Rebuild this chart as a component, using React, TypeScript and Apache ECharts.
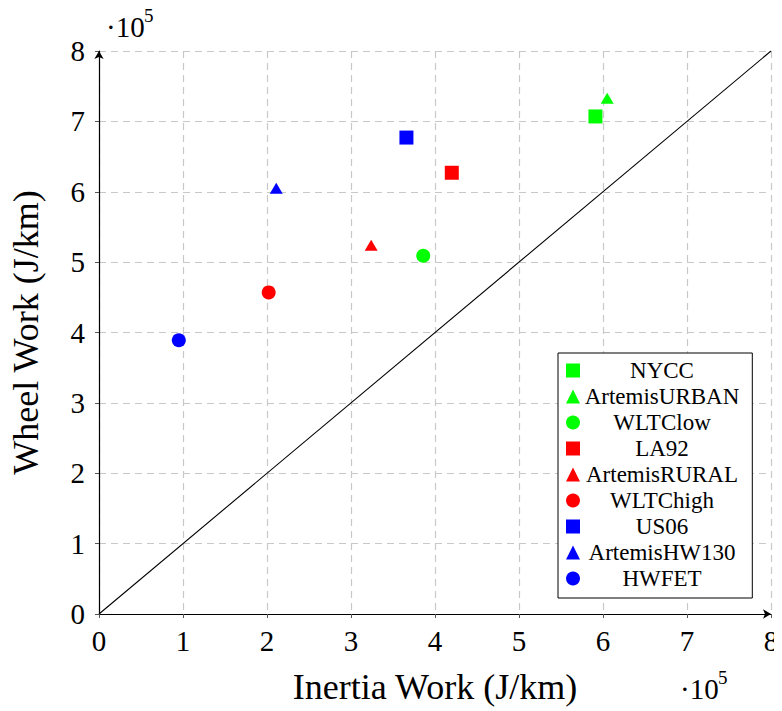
import React, { useEffect, useRef } from "react";
import * as echarts from "echarts";

const seriesNames = ["NYCC", "ArtemisURBAN", "WLTClow", "LA92", "ArtemisRURAL", "WLTChigh", "US06", "ArtemisHW130", "HWFET"];
const seriesColors = ["#00ff00", "#00ff00", "#00ff00", "#ff0000", "#ff0000", "#ff0000", "#0000ff", "#0000ff", "#0000ff"];
const seriesSymbols = ["rect", "triangle", "circle", "rect", "triangle", "circle", "rect", "triangle", "circle"];
// x: inertia work (·10^5 J/km), y: wheel work (·10^5 J/km)
const inertiaWork = [5.91, 6.05, 3.86, 4.2, 3.24, 2.02, 3.66, 2.11, 0.95];
const wheelWork = [7.07, 7.33, 5.09, 6.27, 5.24, 4.57, 6.77, 6.05, 3.89];
const diagonal = [[0, 0], [8, 8]];
const axisMin = 0;
const axisMax = 8;
const axisInterval = 1;

const FONT = "'Liberation Serif', 'Times New Roman', serif";

export default function App() {
  const ref = useRef<HTMLDivElement>(null);
  useEffect(() => {
    if (!ref.current) return;
    const chart = echarts.init(ref.current, undefined, { renderer: "svg" });
    const symbolSize = (s: string) => (s === "triangle" ? [13, 11] : 14);
    const scatter = seriesNames.map((name, i) => ({
      name,
      type: "scatter",
      symbol: seriesSymbols[i],
      symbolSize: symbolSize(seriesSymbols[i]),
      itemStyle: { color: seriesColors[i], opacity: 1 },
      data: [[inertiaWork[i], wheelWork[i]]],
      z: 5,
    }));
    const axisCommon = {
      min: axisMin,
      max: axisMax,
      interval: axisInterval,
      nameLocation: "middle",
      nameTextStyle: { fontFamily: FONT, fontSize: 36, color: "#000" },
      axisLine: {
        show: true,
        symbol: ["none", "arrow"],
        symbolSize: [7, 8],
        lineStyle: { color: "#000", width: 1.2 },
      },
      axisTick: { show: true, length: 4, lineStyle: { color: "#555", width: 1 } },
      axisLabel: { fontFamily: FONT, fontSize: 29, color: "#000" },
      splitLine: { show: true, lineStyle: { color: "#c8c8c8", width: 1.2, type: [7, 5] } },
    };
    chart.setOption({
      animation: false,
      backgroundColor: "#fff",
      grid: { left: 98, top: 51, width: 673, height: 563, containLabel: false },
      xAxis: {
        ...axisCommon,
        type: "value",
        name: "Inertia Work (J/km)",
        nameGap: 55,
        axisLabel: { ...axisCommon.axisLabel, margin: 12 },
      },
      yAxis: {
        ...axisCommon,
        type: "value",
        name: "Wheel Work (J/km)",
        nameGap: 55,
        axisLabel: { ...axisCommon.axisLabel, margin: 14 },
      },
      legend: {
        orient: "vertical",
        left: 558,
        top: 353,
        padding: [6, 13, 8, 8],
        itemWidth: 14,
        itemHeight: 14,
        itemGap: 3,
        backgroundColor: "#fff",
        borderColor: "#000",
        borderWidth: 1,
        data: seriesNames.map((n, i) => ({ name: n, icon: seriesSymbols[i] })),
        formatter: (n: string) => `{a|${n}}`,
        textStyle: {
          rich: {
            a: { fontFamily: FONT, fontSize: 23, color: "#000", width: 154, align: "center" },
          },
        },
      },
      graphic: [
        { type: "text", left: 106, top: 12, style: { text: "·10", fontFamily: FONT, fontSize: 29, fill: "#000" } },
        { type: "text", left: 144, top: 6, style: { text: "5", fontFamily: FONT, fontSize: 19, fill: "#000" } },
        { type: "text", left: 680, top: 674, style: { text: "·10", fontFamily: FONT, fontSize: 29, fill: "#000" } },
        { type: "text", left: 718, top: 668, style: { text: "5", fontFamily: FONT, fontSize: 19, fill: "#000" } },
      ],
      series: [
        {
          name: "diagonal",
          type: "line",
          data: diagonal,
          symbol: "none",
          lineStyle: { color: "#000", width: 1.1 },
          z: 3,
        },
        ...scatter,
      ],
    });
    return () => chart.dispose();
  }, []);
  return <div ref={ref} style={{ width: 782, height: 711, marginLeft: -8, marginTop: -8 }} />;
}
